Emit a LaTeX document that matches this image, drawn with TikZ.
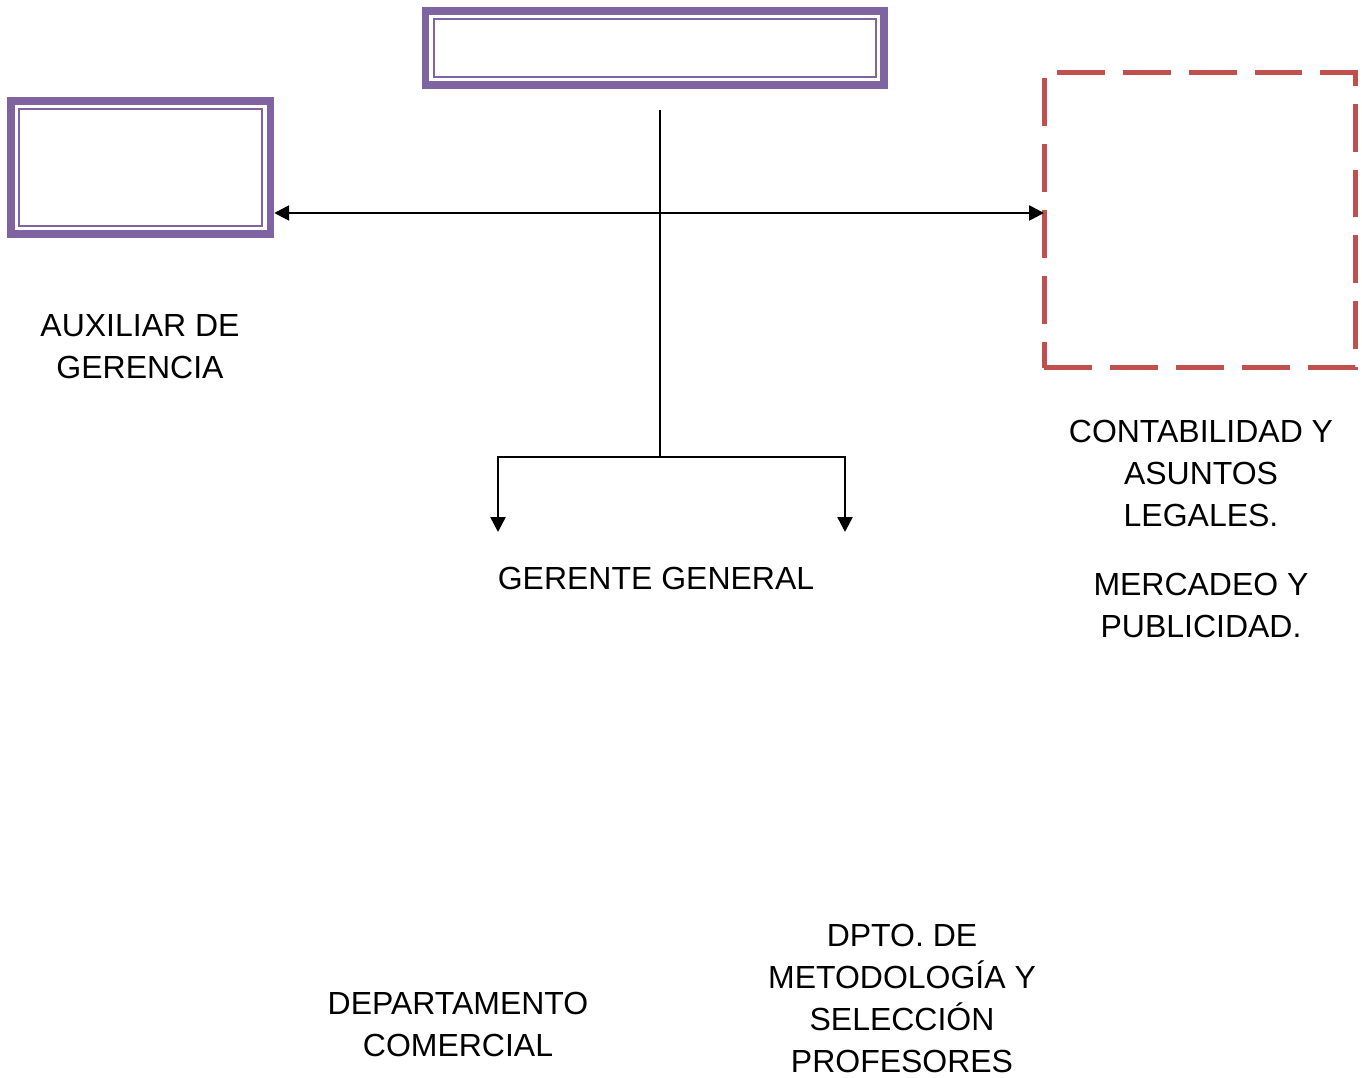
\documentclass[tikz,border=0pt]{standalone}
\usepackage{fontspec}
\setmainfont{Liberation Sans}
\usetikzlibrary{arrows.meta}
\definecolor{boxpurple}{HTML}{8064A2}
\definecolor{boxred}{HTML}{C0504D}

\begin{document}
\begin{tikzpicture}[x=0.02cm, y=-0.02cm,
    >={Triangle[length=0.3cm,width=0.3cm]},
    framebox/.style={draw=boxpurple, line width=0.15cm, inner sep=0pt},
    innerframe/.style={draw=boxpurple, line width=0.04cm},
    dashbox/.style={draw=boxred, line width=0.1cm, dash pattern=on 0.96cm off 0.36cm, inner sep=0pt, outer sep=0pt},
    label/.style={align=center, font=\fontsize{18.2}{23.9}\selectfont, inner sep=0pt},
    link/.style={line width=0.05cm},
    trunk/.style={line width=0.04cm}
]
\useasboundingbox (0,0) rectangle (1362,1078);

% Boxes
\node[framebox, minimum width=9.17cm, minimum height=1.48cm] (top) at (654.75,48) {};
\draw[innerframe] ([xshift=0.235cm, yshift=-0.235cm]top.north west) rectangle ([xshift=-0.235cm, yshift=0.235cm]top.south east);

\node[framebox, minimum width=5.19cm, minimum height=2.66cm] (aux) at (140.75,167.5) {};
\draw[innerframe] ([xshift=0.24cm, yshift=-0.24cm]aux.north west) rectangle ([xshift=-0.24cm, yshift=0.24cm]aux.south east);

\node[dashbox, minimum width=6.23cm, minimum height=5.91cm] (legal) at (1199.75,220.25) {};

% Labels
\node[label] (auxtext) at (140,347) {AUXILIAR DE\\GERENCIA};
\node[label] (gerente) at (656,578) {GERENTE GENERAL};
\node[label] (contab) at (1201,473) {CONTABILIDAD Y\\ASUNTOS\\LEGALES.};
\node[label] (mercadeo) at (1201,605) {MERCADEO Y\\PUBLICIDAD.};
\node[label] (comercial) at (458,1024) {DEPARTAMENTO\\COMERCIAL};
\node[label] (metodo) at (902,998.5) {DPTO. DE\\METODOLOG\'IA Y\\SELECCI\'ON\\PROFESORES};

% Connectors
\coordinate (trunktop) at (660,110);
\coordinate (fork) at (660,457);
\coordinate (leftend) at (498,532);
\coordinate (rightend) at (845,532);

\draw[link, <->] (aux.east |- 0,213) -- (legal.west |- 0,213);
\draw[trunk] (trunktop) -- (fork);
\draw[link, ->] (fork) -| (leftend);
\draw[link, ->] (fork) -| (rightend);

\end{tikzpicture}
\end{document}
